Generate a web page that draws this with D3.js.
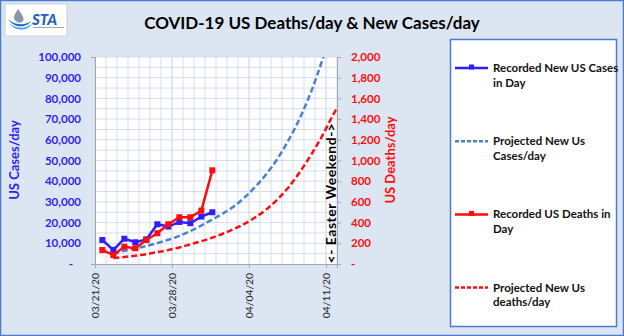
<!DOCTYPE html>
<html>
<head>
<meta charset="utf-8">
<script src="https://cdn.jsdelivr.net/npm/d3@7"></script>
<style>
  html, body { margin: 0; padding: 0; background: #dce6f2; }
  svg { display: block; font-family: Lato, "Open Sans", sans-serif; }
</style>
</head>
<body>
<svg id="chart"></svg>
<script>
const W = 624, H = 336;

// recorded daily figures (plotted at the reporting hour of each day)
const recordedDates = ['03/21/20', '03/22/20', '03/23/20', '03/24/20', '03/25/20', '03/26/20',
  '03/27/20', '03/28/20', '03/29/20', '03/30/20', '03/31/20'];
const casesRecorded = [11600, 6800, 12200, 10500, 11900, 19200, 18100, 20300, 19700, 22900, 25000];
const deathsRecorded = [135, 87, 167, 152, 232, 297, 384, 452, 452, 516, 905];

// projections
const projectedDates = ['03/22/20', '03/23/20', '03/24/20', '03/25/20', '03/26/20', '03/27/20',
  '03/28/20', '03/29/20', '03/30/20', '03/31/20', '04/01/20', '04/02/20', '04/03/20', '04/04/20',
  '04/05/20', '04/06/20', '04/07/20', '04/08/20', '04/09/20', '04/10/20', '04/11/20', '04/12/20'];
const casesProjected = [4700, 6400, 7500, 8700, 10100, 11700, 13600, 15900, 18600, 21500, 24500,
  28000, 32500, 37800, 44000, 51500, 60500, 71000, 83500, 98500, 115000, 134000];
const deathsProjected = [57, 68, 80, 95, 115, 135, 160, 190, 220, 255, 295, 340, 392, 458, 535,
  632, 752, 895, 1060, 1240, 1445, 1620];

const dateTicks = ['03/21/20', '03/28/20', '04/04/20', '04/11/20'];
const casesTicks = d3.range(0, 100001, 10000);
const deathsTicks = d3.range(0, 2001, 200);

const legendItems = [
  { lines: ['Recorded New US Cases', 'in Day'], color: '#2f1ff5', dash: null, marker: true },
  { lines: ['Projected New Us', 'Cases/day'], color: '#4a7fd4', dash: '4,2', marker: false },
  { lines: ['Recorded US Deaths in', 'Day'], color: '#ff0d0d', dash: null, marker: true },
  { lines: ['Projected New Us', 'deaths/day'], color: '#ff0d0d', dash: '4,2', marker: false }
];

const parseDay = d3.timeParse('%m/%d/%y');
const atHour = (s, h) => d3.timeHour.offset(parseDay(s), h);
const REPORT_HOUR = 16;

const blue = '#2f1ff5', red = '#ff0d0d', projBlue = '#4a7fd4';

const svg = d3.select('#chart').attr('width', W).attr('height', H);

// background + frame
svg.append('rect').attr('x', 0.5).attr('y', 0.5).attr('width', W - 1).attr('height', H - 1)
  .attr('fill', '#dce6f2').attr('stroke', '#4a7bd0').attr('stroke-width', 1.5);

// logo
const logo = svg.append('g');
logo.append('rect').attr('x', 5).attr('y', 4).attr('width', 62).attr('height', 32)
  .attr('fill', '#fff').attr('stroke', '#c8d0dc');
logo.append('path').attr('d', 'M18,9 C14,15 12,19 17,22 C21,24 25,21 23,17 C22,14 20,12 18,9 Z')
  .attr('fill', '#8a96a6');
logo.append('path').attr('d', 'M8,19 C14,25 24,26 31,21 C27,28 14,29 8,19 Z').attr('fill', '#1f6fd0');
logo.append('path').attr('d', 'M9,23 C15,29 25,29 32,24 C28,31 15,32 9,23 Z').attr('fill', '#4aa3e8');
logo.append('text').attr('x', 32).attr('y', 25).attr('font-size', 15).attr('font-weight', 900)
  .attr('font-style', 'italic').attr('fill', '#1f5fc0').text('STA');
logo.append('rect').attr('x', 33).attr('y', 27).attr('width', 31).attr('height', 1).attr('fill', '#9aa6b6');

// title
svg.append('text').attr('x', 312).attr('y', 29).attr('text-anchor', 'middle')
  .attr('font-size', 17).attr('font-weight', 700).attr('fill', '#000')
  .text('COVID-19 US Deaths/day & New Cases/day');

// plot area
const plot = { left: 95, right: 337, top: 57, bottom: 264 };

const x = d3.scaleTime()
  .domain([parseDay('03/21/20'), parseDay('04/12/20')])
  .range([plot.left, plot.right]);
const yCases = d3.scaleLinear().domain([0, 100000]).range([plot.bottom, plot.top]);
const yDeaths = d3.scaleLinear().domain([0, 2000]).range([plot.bottom, plot.top]);

svg.append('rect').attr('x', plot.left).attr('y', plot.top)
  .attr('width', plot.right - plot.left).attr('height', plot.bottom - plot.top).attr('fill', '#fff');

svg.append('clipPath').attr('id', 'plotClip').append('rect')
  .attr('x', plot.left).attr('y', plot.top)
  .attr('width', plot.right - plot.left).attr('height', plot.bottom - plot.top);

// gridlines: daily verticals, 5,000 horizontals
const grid = svg.append('g');
const weekly = new Set(dateTicks.map(d => +parseDay(d)));
grid.selectAll('line.v')
  .data(d3.timeDay.range(parseDay('03/21/20'), d3.timeDay.offset(parseDay('04/12/20'), 1)))
  .enter().append('line')
  .attr('x1', d => x(d)).attr('x2', d => x(d))
  .attr('y1', plot.top).attr('y2', plot.bottom)
  .attr('stroke', d => weekly.has(+d) ? '#c0d0ea' : '#d3def2').attr('stroke-width', 1);
grid.selectAll('line.h')
  .data(d3.range(5000, 100001, 5000))
  .enter().append('line')
  .attr('x1', plot.left).attr('x2', plot.right)
  .attr('y1', d => yCases(d)).attr('y2', d => yCases(d))
  .attr('stroke', '#d3def2').attr('stroke-width', 1);

// axes
const fmt = d => d === 0 ? '-' : d3.format(',')(d);

const axL = svg.append('g').attr('transform', `translate(${plot.left},0)`)
  .call(d3.axisLeft(yCases).tickValues(casesTicks).tickFormat(fmt).tickSize(4).tickPadding(10));
axL.selectAll('text').attr('fill', blue).attr('font-size', 11.5).attr('font-weight', 700)
  .attr('font-family', 'Lato');
axL.selectAll('.tick').filter(d => d === 0).select('text').attr('dx', -8);

const axR = svg.append('g').attr('transform', `translate(${plot.right},0)`)
  .call(d3.axisRight(yDeaths).tickValues(deathsTicks).tickFormat(fmt).tickSize(4).tickPadding(10));
axR.selectAll('text').attr('fill', red).attr('font-size', 11.5).attr('font-weight', 700)
  .attr('font-family', 'Lato');

const axB = svg.append('g').attr('transform', `translate(0,${plot.bottom})`)
  .call(d3.axisBottom(x).tickValues(dateTicks.map(parseDay)).tickFormat(d3.timeFormat('%m/%d/%y')).tickSize(4));
axB.selectAll('text').attr('fill', '#222').attr('font-size', 10.3).attr('font-family', 'Lato')
  .attr('transform', 'rotate(-90)').attr('text-anchor', 'end')
  .attr('x', -9).attr('y', 0).attr('dy', '0.35em');

[axL, axR, axB].forEach(a => {
  a.select('.domain').attr('stroke', '#a6a6a6');
  a.selectAll('.tick line').attr('stroke', '#a6a6a6');
});
axL.selectAll('.tick line').attr('opacity', 0);

// axis titles
svg.append('text').attr('transform', 'translate(19,160) rotate(-90)').attr('text-anchor', 'middle')
  .attr('font-size', 13).attr('font-weight', 700).attr('fill', blue).text('US Cases/day');
svg.append('text').attr('transform', 'translate(395,160) rotate(-90)').attr('text-anchor', 'middle')
  .attr('font-size', 13).attr('font-weight', 700).attr('fill', red).text('US Deaths/day');

// series
const series = svg.append('g').attr('clip-path', 'url(#plotClip)');

const projCases = projectedDates.map((d, i) => ({ t: atHour(d, REPORT_HOUR), v: casesProjected[i] }));
const projDeaths = projectedDates.map((d, i) => ({ t: atHour(d, REPORT_HOUR), v: deathsProjected[i] }));
const recCases = recordedDates.map((d, i) => ({ t: atHour(d, REPORT_HOUR), v: casesRecorded[i] }));
const recDeaths = recordedDates.map((d, i) => ({ t: atHour(d, REPORT_HOUR), v: deathsRecorded[i] }));

const line = (yScale, curve) => d3.line().x(d => x(d.t)).y(d => yScale(d.v)).curve(curve);

series.append('path').datum(projCases)
  .attr('d', line(yCases, d3.curveMonotoneX))
  .attr('fill', 'none').attr('stroke', projBlue).attr('stroke-width', 2.5).attr('stroke-dasharray', '6,3');
series.append('path').datum(projDeaths)
  .attr('d', line(yDeaths, d3.curveMonotoneX))
  .attr('fill', 'none').attr('stroke', red).attr('stroke-width', 2.5).attr('stroke-dasharray', '6,3');

function recorded(data, yScale, color) {
  series.append('path').datum(data)
    .attr('d', line(yScale, d3.curveLinear))
    .attr('fill', 'none').attr('stroke', color).attr('stroke-width', 2.5);
  series.append('g').selectAll('rect').data(data).enter().append('rect')
    .attr('x', d => x(d.t) - 3).attr('y', d => yScale(d.v) - 3)
    .attr('width', 6).attr('height', 6).attr('fill', color);
}
recorded(recCases, yCases, blue);
recorded(recDeaths, yDeaths, red);

// Easter weekend marker
svg.append('text')
  .attr('transform', `translate(${x(parseDay('04/11/20')) + 10},${193}) rotate(-90)`)
  .attr('text-anchor', 'middle').attr('font-size', 14).attr('font-weight', 700).attr('fill', '#000')
  .attr('letter-spacing', 0.5)
  .text('<- Easter Weekend->');

// legend
const lg = svg.append('g');
lg.append('rect').attr('x', 450.5).attr('y', 39.5).attr('width', 166).attr('height', 287)
  .attr('fill', '#fff').attr('stroke', '#4a7bd0').attr('stroke-width', 1.5);
const entry = lg.selectAll('g.entry').data(legendItems).enter().append('g')
  .attr('transform', (d, i) => `translate(455,${68 + i * 73.2})`);
entry.append('line').attr('x1', 0).attr('x2', 33).attr('y1', 0).attr('y2', 0)
  .attr('stroke', d => d.color).attr('stroke-width', 2.5)
  .attr('stroke-dasharray', d => d.dash);
entry.filter(d => d.marker).append('rect').attr('x', 14).attr('y', -3.5).attr('width', 5).attr('height', 5)
  .attr('fill', d => d.color);
entry.each(function (d) {
  const t = d3.select(this).append('text').attr('x', 38).attr('y', 0)
    .attr('font-size', 11.5).attr('font-weight', 700).attr('fill', '#111');
  d.lines.forEach((s, k) => t.append('tspan').attr('x', 38).attr('dy', k === 0 ? '0.35em' : 14.5).text(s));
});
</script>
</body>
</html>
